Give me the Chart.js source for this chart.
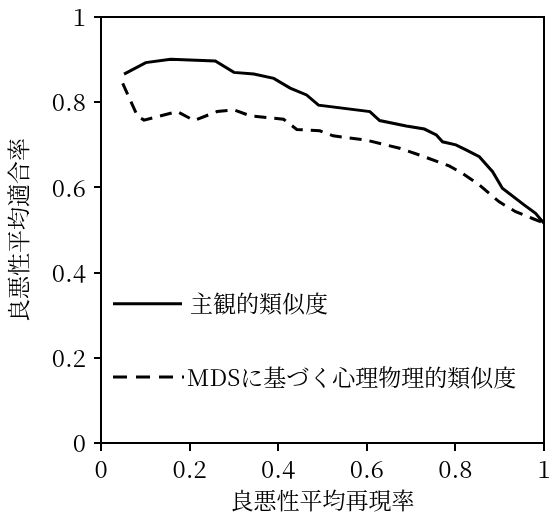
<!DOCTYPE html>
<html>
<head>
<meta charset="utf-8">
<script src="https://cdn.jsdelivr.net/npm/chart.js@4"></script>
<style>
  html, body { margin: 0; padding: 0; background: #fff; }
  #wrap { width: 549px; height: 520px; }
</style>
</head>
<body>
<div id="wrap"><canvas id="chart" width="549" height="520"></canvas></div>
<script>
var FONT = '"Noto Serif CJK JP"';

// 主観的類似度
var subjX = [0.052, 0.101, 0.157, 0.258, 0.30, 0.345, 0.39, 0.427, 0.464, 0.491, 0.607, 0.629, 0.689, 0.730, 0.757, 0.771, 0.801, 0.824, 0.854, 0.884, 0.906, 0.955, 0.981, 1.0];
var subjY = [0.866, 0.893, 0.901, 0.897, 0.870, 0.866, 0.856, 0.833, 0.817, 0.793, 0.778, 0.757, 0.744, 0.737, 0.723, 0.707, 0.700, 0.688, 0.672, 0.637, 0.598, 0.559, 0.539, 0.516];

// MDSに基づく心理物理的類似度
var mdsX = [0.049, 0.082, 0.097, 0.172, 0.21, 0.262, 0.30, 0.337, 0.412, 0.442, 0.494, 0.524, 0.599, 0.674, 0.719, 0.787, 0.816, 0.854, 0.899, 0.936, 0.974, 1.0];
var mdsY = [0.844, 0.768, 0.758, 0.778, 0.757, 0.778, 0.782, 0.768, 0.760, 0.736, 0.733, 0.721, 0.711, 0.692, 0.676, 0.650, 0.633, 0.606, 0.566, 0.543, 0.527, 0.516];

var seriesNames = ['主観的類似度', 'MDSに基づく心理物理的類似度'];
var xTitle = '良悪性平均再現率';
var yTitle = '良悪性平均適合率';

function pts(xs, ys) {
  return xs.map(function (x, i) { return { x: x, y: ys[i] }; });
}

// box around plot + legend inside
var boxLegend = {
  id: 'boxLegend',
  afterDraw: function (chart) {
    var ctx = chart.ctx, a = chart.chartArea;
    ctx.save();
    ctx.strokeStyle = '#000';
    ctx.lineWidth = 2;
    ctx.beginPath();
    ctx.moveTo(a.left, a.top);
    ctx.lineTo(a.right, a.top);
    ctx.lineTo(a.right, a.bottom);
    ctx.stroke();

    var ys = chart.scales.y;
    var lx = a.left + 12;
    ctx.lineWidth = 3;
    ctx.font = '23px ' + FONT;
    ctx.fillStyle = '#000';
    ctx.textBaseline = 'middle';

    var y1 = ys.getPixelForValue(0.327);
    ctx.setLineDash([]);
    ctx.beginPath(); ctx.moveTo(lx, y1); ctx.lineTo(lx + 69, y1); ctx.stroke();
    ctx.fillText(seriesNames[0], lx + 77, y1);

    var y2 = ys.getPixelForValue(0.155);
    ctx.setLineDash([14, 9]);
    ctx.beginPath(); ctx.moveTo(lx, y2); ctx.lineTo(lx + 71, y2); ctx.stroke();
    ctx.setLineDash([]);
    ctx.fillText(seriesNames[1], lx + 74, y2);
    ctx.restore();
  }
};

function draw() {
  new Chart(document.getElementById('chart').getContext('2d'), {
    type: 'line',
    data: {
      datasets: [
        { label: seriesNames[0], data: pts(subjX, subjY), borderColor: '#000', borderWidth: 3, pointRadius: 0, tension: 0, fill: false },
        { label: seriesNames[1], data: pts(mdsX, mdsY), borderColor: '#000', borderWidth: 3, borderDash: [12, 8], pointRadius: 0, tension: 0, fill: false }
      ]
    },
    options: {
      responsive: false,
      animation: false,
      layout: { padding: { top: 17, right: 5, left: 0, bottom: 0 } },
      plugins: { legend: { display: false }, tooltip: { enabled: false } },
      scales: {
        x: {
          type: 'linear', min: 0, max: 1,
          ticks: { stepSize: 0.2, color: '#000', font: { family: FONT, size: 24 }, padding: 3, maxRotation: 0,
            callback: function (v) { return String(Math.round(v * 10) / 10); } },
          grid: { drawOnChartArea: false, tickLength: 8, color: '#000', lineWidth: 2 },
          border: { color: '#000', width: 2 },
          title: { display: true, text: xTitle, color: '#000', font: { family: FONT, size: 23 }, padding: { top: 0, bottom: 6 } },
          afterFit: function (s) { s.height = 77; s.paddingLeft = 0; s.paddingRight = 0; }
        },
        y: {
          min: 0, max: 1,
          ticks: { stepSize: 0.2, color: '#000', font: { family: FONT, size: 24 }, padding: 8,
            callback: function (v) { return String(Math.round(v * 10) / 10); } },
          grid: { drawOnChartArea: false, tickLength: 7, color: '#000', lineWidth: 2 },
          border: { color: '#000', width: 2 },
          title: { display: true, text: yTitle, color: '#000', font: { family: FONT, size: 23 }, padding: { top: 4, bottom: 4 } },
          afterFit: function (s) { s.width = 101; s.paddingTop = 0; s.paddingBottom = 0; }
        }
      }
    },
    plugins: [boxLegend]
  });
}

if (document.fonts && document.fonts.load) {
  document.fonts.load('21px ' + FONT, '0.8MDS良悪性').then(draw, draw);
} else {
  draw();
}
</script>
</body>
</html>
